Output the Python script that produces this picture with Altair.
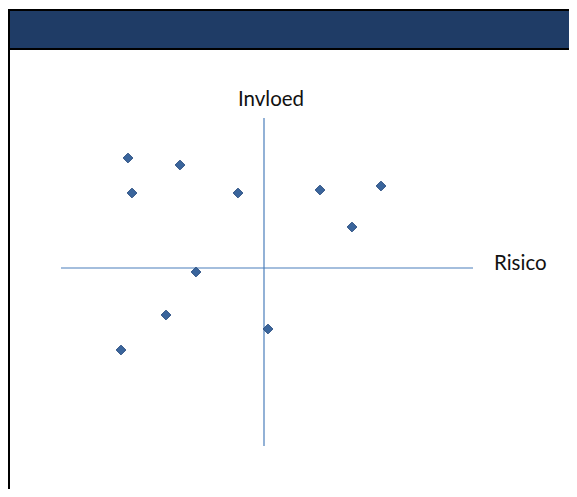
import altair as alt
import pandas as pd

# Scatter points (Risico on x, Invloed on y)
risico = [-6.8, -4.2, -6.6, -1.3, 2.8, 5.85, 4.4, -3.4, -4.9, -7.15, 0.2]
invloed = [5.5, 5.15, 3.75, 3.75, 3.9, 4.1, 2.05, -0.2, -2.35, -4.1, -3.05]

x_domain = [-10.15, 10.45]
y_domain = [-8.9, 7.5]

axis_labels = ["Invloed", "Risico"]

pts = pd.DataFrame({"x": risico, "y": invloed})
hline = pd.DataFrame({"x": [x_domain[0]], "x2": [x_domain[1]], "y": [0.0]})
vline = pd.DataFrame({"x": [0.0], "y": [y_domain[0]], "y2": [y_domain[1]]})
lab_top = pd.DataFrame({"x": [0.35], "y": [y_domain[1]], "t": [axis_labels[0]]})
lab_right = pd.DataFrame({"x": [11.5], "y": [0.0], "t": [axis_labels[1]]})

xs = alt.Scale(domain=x_domain, nice=False, zero=False)
ys = alt.Scale(domain=y_domain, nice=False, zero=False)

W, H = 412, 328
PL, PT = 53, 110

header = alt.Chart(pd.DataFrame({"a": [0]})).mark_rect(
    color="#1f3c66", stroke="#000000", strokeWidth=2
).encode(
    x=alt.value(-52), x2=alt.value(590 - 61), y=alt.value(-108), y2=alt.value(-69)
)
leftline = alt.Chart(pd.DataFrame({"a": [0]})).mark_rule(
    color="#000000", strokeWidth=2
).encode(x=alt.value(-52), y=alt.value(-69), y2=alt.value(400))

h = alt.Chart(hline).mark_rule(color="#4a7ebb", strokeWidth=1.2).encode(
    x=alt.X("x:Q", scale=xs, axis=None), x2="x2:Q", y=alt.Y("y:Q", scale=ys, axis=None)
)
v = alt.Chart(vline).mark_rule(color="#4a7ebb", strokeWidth=1.2).encode(
    x=alt.X("x:Q", scale=xs, axis=None), y=alt.Y("y:Q", scale=ys, axis=None), y2="y2:Q"
)
p = alt.Chart(pts).mark_point(
    shape="diamond", filled=True, size=95, fill="#3a659c", stroke="#2b4f82", strokeWidth=1, opacity=1
).encode(
    x=alt.X("x:Q", scale=xs, axis=None), y=alt.Y("y:Q", scale=ys, axis=None)
)
t1 = alt.Chart(lab_top).mark_text(
    font="Lato", fontSize=20.5, color="#111111", baseline="alphabetic", align="center", dy=-12
).encode(x=alt.X("x:Q", scale=xs, axis=None), y=alt.Y("y:Q", scale=ys, axis=None), text="t:N")
t2 = alt.Chart(lab_right).mark_text(
    font="Lato", fontSize=20.5, color="#111111", baseline="middle", align="left", dy=-4
).encode(x=alt.X("x:Q", scale=xs, axis=None), y=alt.Y("y:Q", scale=ys, axis=None), text="t:N")

chart = alt.layer(header, leftline, h, v, p, t1, t2).properties(
    width=W, height=H,
    padding={"left": PL, "top": PT, "right": 561 - PL - W, "bottom": 481 - PT - H},
    autosize=alt.AutoSizeParams(type="none"),
    background="#ffffff",
).configure_view(stroke=None)

chart.save("out.html", embed_options={"renderer": "svg", "actions": False})
